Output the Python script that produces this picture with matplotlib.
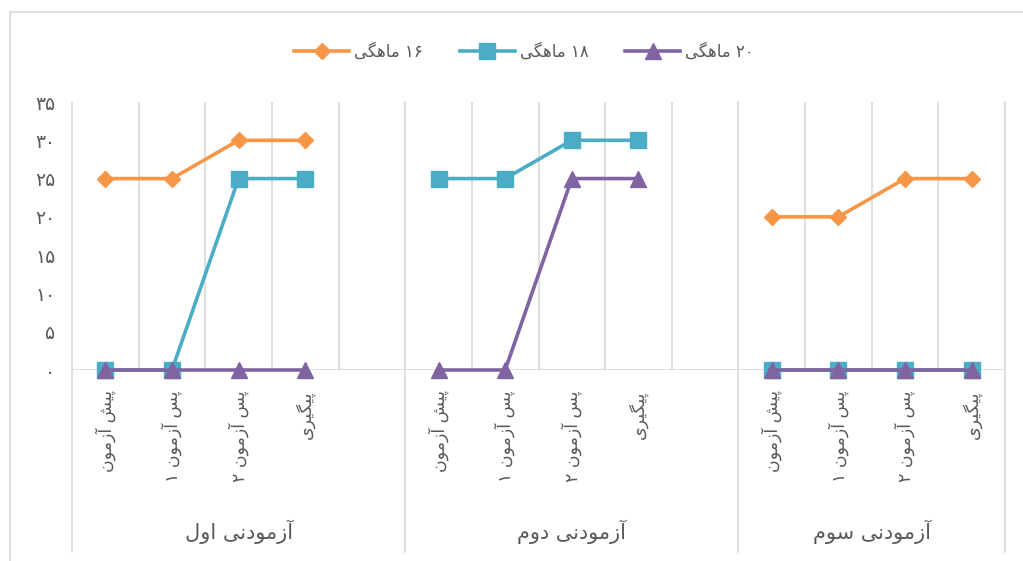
import re
import numpy as np
import matplotlib
matplotlib.use("Agg")
import matplotlib.pyplot as plt
from matplotlib.lines import Line2D

# داده ها
groups = ['آزمودنی اول', 'آزمودنی دوم', 'آزمودنی سوم']
stages = ['پیش آزمون', 'پس آزمون ۱', 'پس آزمون ۲', 'پیگیری']
group_slots = [5, 5, 4]   # the first two groups keep an empty category at the end
series_names = ['۱۶ ماهگی', '۱۸ ماهگی', '۲۰ ماهگی']
m16 = [[25, 25, 30, 30], [np.nan] * 4, [20, 20, 25, 25]]
m18 = [[0, 0, 25, 25], [25, 25, 30, 30], [0, 0, 0, 0]]
m20 = [[0, 0, 0, 0], [0, 0, 25, 25], [0, 0, 0, 0]]
yticks = [0, 5, 10, 15, 20, 25, 30, 35]

colors = ['#F79646', '#4BACC6', '#8064A2']
markers = ['D', 's', '^']
msizes = [8, 11, 11.5]
gray = '#595959'
grid = '#D9D9D9'

# presentation forms: isolated, final, initial, medial
FORMS = {
    'ا': ('\uFE8D', '\uFE8E', None, None),
    'آ': ('\uFE81', '\uFE82', None, None),
    'د': ('\uFEA9', '\uFEAA', None, None),
    'ر': ('\uFEAD', '\uFEAE', None, None),
    'ز': ('\uFEAF', '\uFEB0', None, None),
    'و': ('\uFEED', '\uFEEE', None, None),
    'م': ('\uFEE1', '\uFEE2', '\uFEE3', '\uFEE4'),
    'ه': ('\uFEE9', '\uFEEA', '\uFEEB', '\uFEEC'),
    'ن': ('\uFEE5', '\uFEE6', '\uFEE7', '\uFEE8'),
    'ل': ('\uFEDD', '\uFEDE', '\uFEDF', '\uFEE0'),
    'س': ('\uFEB1', '\uFEB2', '\uFEB3', '\uFEB4'),
    'ش': ('\uFEB5', '\uFEB6', '\uFEB7', '\uFEB8'),
    'پ': ('\uFB56', '\uFB57', '\uFB58', '\uFB59'),
    'گ': ('\uFB92', '\uFB93', '\uFB94', '\uFB95'),
    'ی': ('\uFBFC', '\uFBFD', '\uFBFE', '\uFBFF'),
}


def fa(s):
    # join the letters and put them in visual (left to right) order
    out = []
    for i, c in enumerate(s):
        if c not in FORMS:
            out.append(c)
            continue
        prev = s[i - 1] if i > 0 else ''
        nxt = s[i + 1] if i + 1 < len(s) else ''
        jp = prev in FORMS and FORMS[prev][2] is not None
        jn = FORMS[c][2] is not None and nxt in FORMS
        f = FORMS[c]
        if jp and jn:
            out.append(f[3])
        elif jp:
            out.append(f[1])
        elif jn:
            out.append(f[2])
        else:
            out.append(f[0])
    vis = ''.join(out)[::-1]
    return re.sub('[۰-۹]+', lambda m: m.group(0)[::-1], vis)


def fa_num(n):
    return str(n).translate(str.maketrans('0123456789', '۰۱۲۳۴۵۶۷۸۹'))


plt.rcParams['font.family'] = ['DejaVu Sans']

fig = plt.figure(figsize=(10.23, 5.61), dpi=100)
ax = fig.add_axes([72 / 1023, 1 - 370 / 561, 933 / 1023, 268 / 561])

# x positions of the categories in each group
xs = []
start = 0
for n in group_slots:
    xs.append(np.arange(start, start + len(stages)))
    start += n
total = sum(group_slots)

for k, data in enumerate([m16, m18, m20]):
    for g in range(len(groups)):
        ax.plot(xs[g], data[g], color=colors[k], lw=2.6, marker=markers[k],
                ms=msizes[k], mec=colors[k], mfc=colors[k], zorder=3 + k,
                solid_capstyle='round', clip_on=False)

ax.set_xlim(-0.5, total - 0.5)
ax.set_ylim(0, 35)
for s in ax.spines.values():
    s.set_visible(False)
ax.set_xticks([])
ax.set_yticks(yticks)
ax.set_yticklabels([fa_num(v) for v in yticks], color=gray, fontsize=13.5)
ax.tick_params(axis='y', length=0, pad=12)

# gridlines
ax.axhline(0, color=grid, lw=1.2, zorder=1)
trans = ax.get_xaxis_transform()
seps = [-0.5]
for n in group_slots:
    seps.append(seps[-1] + n)
for b in np.arange(-0.5, total, 1.0):
    if b in seps:
        ax.plot([b, b], [1, -0.68], transform=trans, color=grid, lw=1.2,
                clip_on=False, zorder=1)
    else:
        ax.plot([b, b], [1, 0], transform=trans, color=grid, lw=1.2, zorder=1)

# category labels
for g in range(len(groups)):
    for i, st in enumerate(stages):
        ax.text(xs[g][i], -0.075, fa(st), transform=trans, rotation=90,
                ha='center', va='top', fontsize=12.5, color=gray)
    mid = (seps[g] + seps[g + 1]) / 2
    ax.text(mid, -0.605, fa(groups[g]), transform=trans, ha='center',
            va='center', fontsize=15, color=gray)

# legend
handles = [Line2D([], [], color=colors[k], lw=2.6, marker=markers[k],
                  ms=msizes[k]) for k in range(3)]
fig.legend(handles, [fa(n) for n in series_names], ncol=3,
           loc='center', bbox_to_anchor=(524 / 1023, 1 - 52 / 561),
           frameon=False, fontsize=12, labelcolor=gray, handlelength=3.3,
           columnspacing=2.2, handletextpad=0.3)

# chart border
fig.add_artist(Line2D([10 / 1023, 10 / 1023], [1 - 12 / 561, 0], color=grid, lw=1.2))
fig.add_artist(Line2D([10 / 1023, 1], [1 - 12 / 561, 1 - 12 / 561], color=grid, lw=1.2))

fig.savefig('out.png', dpi=100)
